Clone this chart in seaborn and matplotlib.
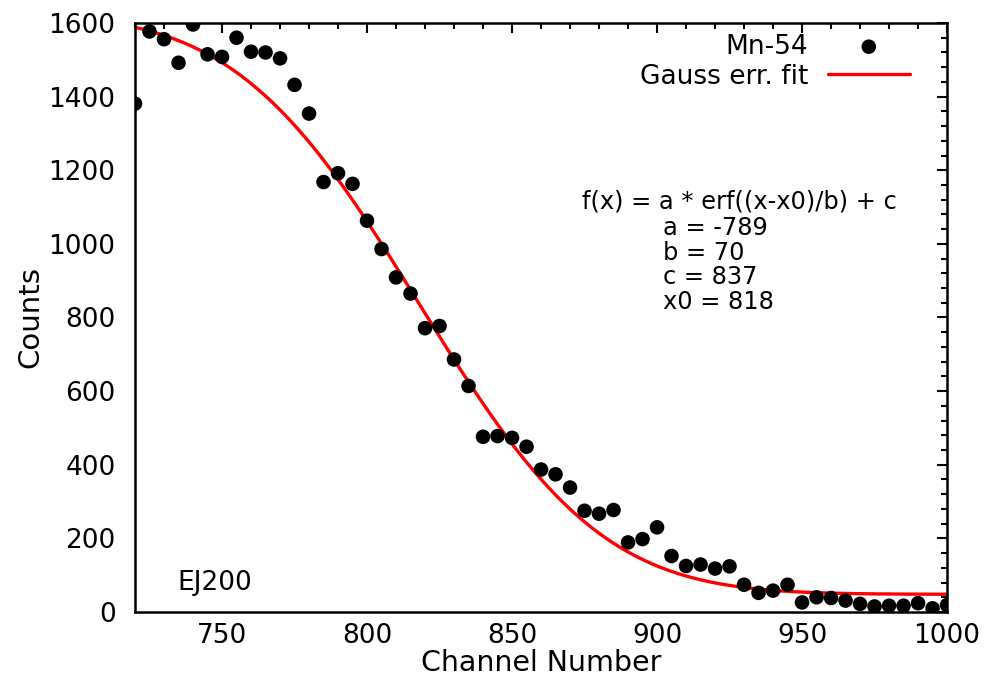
import math
import numpy as np
import pandas as pd
import matplotlib
matplotlib.use("Agg")
import matplotlib.pyplot as plt
from matplotlib.ticker import MultipleLocator
import seaborn as sns

# measured points (Mn-54 source, EJ200)
channel = list(range(720, 1001, 5))
counts = [1381, 1577, 1556, 1492, 1596, 1515, 1508, 1560, 1522, 1520,
          1504, 1432, 1354, 1168, 1192, 1163, 1063, 986, 909, 865,
          771, 777, 686, 614, 476, 478, 473, 449, 387, 374,
          338, 275, 267, 277, 189, 198, 230, 152, 125, 129,
          118, 124, 74, 52, 58, 74, 26, 40, 38, 31,
          22, 15, 17, 17, 24, 10, 19]

# fit parameters shown on the chart
a = -789
b = 70
c = 837
x0 = 818

df = pd.DataFrame({"Channel": channel, "Counts": counts})
xs = np.linspace(720, 1000, 300)
fit = pd.DataFrame({"Channel": xs,
                    "Counts": [a * math.erf((x - x0) / b) + c for x in xs]})

sns.set_style("white", {"text.color": "black", "axes.labelcolor": "black",
                        "xtick.color": "black", "ytick.color": "black"})
plt.rcParams["font.family"] = ["DejaVu Sans"]

fig = plt.figure(figsize=(9.95, 6.93), dpi=100)
ax = fig.add_axes([0.1357, 0.1169, 0.8161, 0.8499])

sns.scatterplot(data=df, x="Channel", y="Counts", ax=ax, color="black",
                s=110, edgecolor="none", label="Mn-54", zorder=3)
sns.lineplot(data=fit, x="Channel", y="Counts", ax=ax, color="red",
             linewidth=2.4, label="Gauss err. fit", zorder=2)

ax.set_xlim(720, 1000)
ax.set_ylim(0, 1600)
ax.xaxis.set_major_locator(MultipleLocator(50))
ax.xaxis.set_minor_locator(MultipleLocator(10))
ax.yaxis.set_major_locator(MultipleLocator(200))
ax.yaxis.set_minor_locator(MultipleLocator(40))
ax.tick_params(which="both", direction="in", top=True, right=True,
               width=1.5, color="black", labelcolor="black", labelsize=19)
ax.tick_params(axis="x", pad=8)
ax.tick_params(axis="y", pad=14)
ax.tick_params(which="major", length=7)
ax.tick_params(which="minor", length=4)
for sp in ax.spines.values():
    sp.set_linewidth(1.8)
    sp.set_color("black")

ax.set_xlabel("Channel Number", fontsize=20.5, labelpad=0, color="black")
ax.set_ylabel("Counts", fontsize=21, labelpad=3, color="black")

leg = ax.legend(loc="upper right", bbox_to_anchor=(0.954, 0.982),
                frameon=False, markerfirst=False, fontsize=19,
                handlelength=3.1, handletextpad=0.75, labelspacing=0.15,
                borderpad=0, borderaxespad=0, labelcolor="black")

ax.text(874, 1114, "f(x) = a * erf((x-x0)/b) + c", fontsize=17.4,
        va="center", color="black")
params = [f"a = {a}", f"b = {b}", f"c = {c}", f"x0 = {x0}"]
for i, p in enumerate(params):
    ax.text(902, 1043 - i * 67, p, fontsize=17.4, va="center", color="black")
ax.text(734.5, 78, "EJ200", fontsize=19, va="center", color="black")

fig.savefig("out.png", dpi=100)
